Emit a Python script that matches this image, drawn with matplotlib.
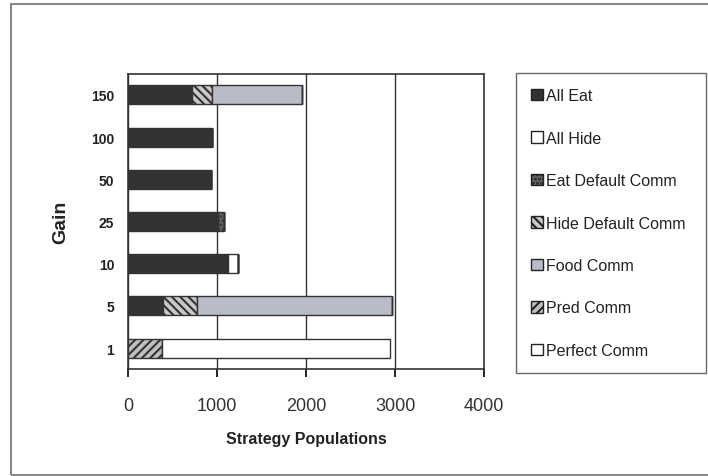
import matplotlib
matplotlib.use("Agg")
import matplotlib.pyplot as plt
from matplotlib.patches import Patch, Rectangle
import numpy as np

plt.rcParams["font.family"] = ["Liberation Sans", "DejaVu Sans"]
plt.rcParams["hatch.linewidth"] = 1.5

gains = ["1", "5", "10", "25", "50", "100", "150"]

strategies = ["All Eat", "All Hide", "Eat Default Comm", "Hide Default Comm",
              "Food Comm", "Pred Comm", "Perfect Comm"]

# populations per gain level, bottom (gain 1) to top (gain 150)
all_eat           = [0,    395,  1125, 1010, 930, 940, 720]
all_hide          = [0,    0,    110,  0,    0,   0,   0]
eat_default_comm  = [0,    0,    0,    70,   0,   0,   0]
hide_default_comm = [0,    380,  0,    0,    0,   0,   225]
food_comm         = [0,    2190, 0,    0,    0,   0,   1010]
pred_comm         = [380,  0,    0,    0,    0,   0,   0]
perfect_comm      = [2560, 0,    0,    0,    0,   0,   0]

series = [all_eat, all_hide, eat_default_comm, hide_default_comm,
          food_comm, pred_comm, perfect_comm]

STYLES = [
    dict(facecolor="#333333", hatch=None),
    dict(facecolor="white", hatch=None),
    dict(facecolor="#666666", hatch="...."),
    dict(facecolor="#c8c8c8", hatch="\\\\\\\\"),
    dict(facecolor="#b8bbc8", hatch=None),
    dict(facecolor="#c0c0c0", hatch="////"),
    dict(facecolor="white", hatch=None),
]

fig = plt.figure(figsize=(7.08, 4.77), dpi=100)
ax = fig.add_axes([0.181, 0.224, 0.503, 0.619])

y = np.arange(len(gains))
left = np.zeros(len(gains))
for name, vals, st in zip(strategies, series, STYLES):
    vals = np.array(vals, dtype=float)
    ax.barh(y, vals, left=left, height=0.45, facecolor=st["facecolor"],
            hatch=st["hatch"], edgecolor="#333333", linewidth=1.0, label=name)
    left += vals

ax.set_xlim(0, 4000)
ax.set_ylim(-0.5, len(gains) - 0.5)
ax.set_xticks([0, 1000, 2000, 3000, 4000])
ax.set_yticks(y)
ax.set_yticklabels(gains, fontsize=10, fontweight="bold")
ax.tick_params(axis="x", labelsize=13, length=6, width=1.2, pad=14,
               direction="out", labelcolor="#333333")
ax.tick_params(axis="y", length=0, pad=10, labelcolor="#222222")
ax.grid(axis="x", color="#333333", linewidth=1.0)
ax.set_axisbelow(True)
for s in ax.spines.values():
    s.set_color("#333333")
    s.set_linewidth(1.2)

ax.set_xlabel("Strategy Populations", fontsize=11.5, fontweight="bold",
              labelpad=12, color="#222222")
ax.set_ylabel("Gain", fontsize=14, fontweight="bold", labelpad=16,
              color="#222222")

handles = [Patch(facecolor=st["facecolor"], hatch=st["hatch"], edgecolor="#222222")
           for st in STYLES]
leg = fig.legend(handles, strategies, loc="upper left", mode="expand",
                 bbox_to_anchor=(0.729, 0.2, 0.268, 0.645), frameon=True,
                 fancybox=False, fontsize=11.5, handlelength=0.75,
                 handleheight=0.75, handletextpad=0.2, labelspacing=1.72,
                 borderpad=0.95, borderaxespad=0)
leg.get_frame().set_edgecolor("#444444")
leg.get_frame().set_linewidth(1.0)
for t in leg.get_texts():
    t.set_color("#222222")

# outer chart frame
fig.patches.append(Rectangle((11 / 708, 1 / 477), 1.2, 1 - 6 / 477,
                             transform=fig.transFigure, fill=False,
                             edgecolor="#888888", linewidth=1.5))

fig.savefig("out.png", dpi=100)
